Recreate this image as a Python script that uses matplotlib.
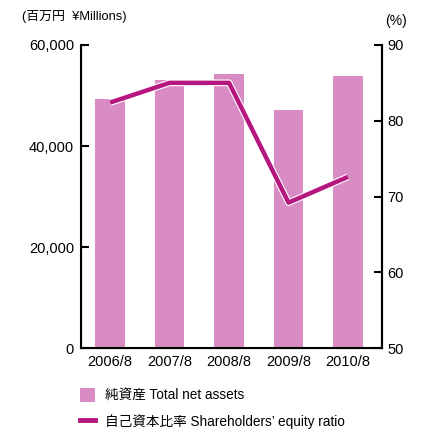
import matplotlib
matplotlib.use("Agg")
import matplotlib.pyplot as plt
import matplotlib.patheffects as pe
from matplotlib.patches import Patch
from matplotlib.lines import Line2D

plt.rcParams['font.family'] = ['Liberation Sans', 'Noto Sans CJK JP', 'DejaVu Sans']

years = ['2006/8', '2007/8', '2008/8', '2009/8', '2010/8']
net_assets = [49300, 53000, 54200, 47100, 53800]
equity_ratio = [82.4, 85.0, 85.0, 69.2, 72.6]
left_ticks = [0, 20000, 40000, 60000]
left_labels = ['0', '20,000', '40,000', '60,000']
right_ticks = [50, 60, 70, 80, 90]

bar_color = '#d98bc3'
line_color = '#b5177f'

fig = plt.figure(figsize=(4.31, 4.32), dpi=100)
ax = fig.add_axes([0.188, 0.194, 0.698, 0.702])
x = list(range(len(years)))
ax.bar(x, net_assets, width=0.5, color=bar_color, zorder=1)
ax.set_xlim(-0.49, 4.57)
ax.set_ylim(0, 60000)
ax.set_yticks(left_ticks)
ax.set_yticklabels(left_labels)
ax.set_xticks(x)
ax.set_xticklabels(years)
ax.tick_params(axis='y', direction='in', length=6, width=1.5, labelsize=10.5, pad=5)
ax.tick_params(axis='x', length=0, labelsize=10.5, pad=5)
ax.spines['top'].set_visible(False)
for s in ['left', 'bottom', 'right']:
    ax.spines[s].set_linewidth(1.5)

ax2 = ax.twinx()
ax2.plot(x, equity_ratio, color=line_color, lw=3.2, solid_capstyle='butt',
         path_effects=[pe.Stroke(linewidth=4.8, foreground='white'), pe.Normal()])
ax2.set_ylim(50, 90)
ax2.set_yticks(right_ticks)
ax2.tick_params(axis='y', direction='in', length=6, width=1.5, labelsize=10.5, pad=4)
ax2.spines['top'].set_visible(False)
ax2.spines['right'].set_linewidth(1.5)

fig.text(0.05, 0.962, '(百万円  ¥Millions)', fontsize=9.3, va='center')
fig.text(0.893, 0.951, '(%)', fontsize=10, va='center')

handles = [Patch(facecolor=bar_color, edgecolor='none'),
           Line2D([0], [0], color=line_color, lw=3.5)]
labels = ['純資産 Total net assets', '自己資本比率 Shareholders’ equity ratio']
fig.legend(handles, labels, loc='upper left', bbox_to_anchor=(0.172, 0.114),
           frameon=False, fontsize=9.8, handlelength=1.15, handleheight=1.2,
           handletextpad=0.75, labelspacing=0.8, borderaxespad=0)

fig.savefig('out.png', dpi=100)
